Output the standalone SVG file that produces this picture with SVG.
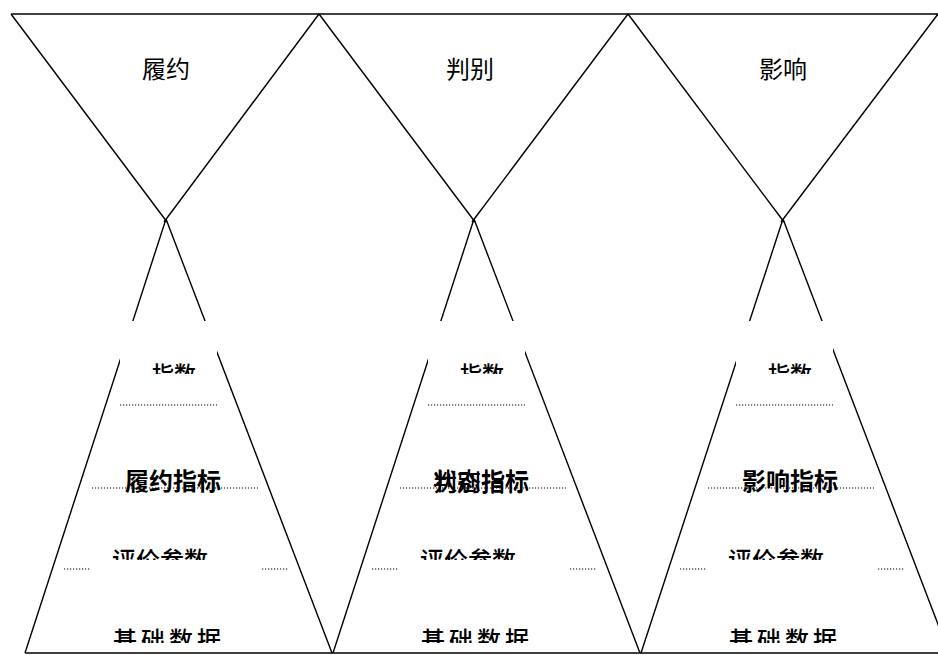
<svg xmlns="http://www.w3.org/2000/svg" width="938" height="655" viewBox="0 0 938 655">
<style>
.ln{stroke:#000;stroke-width:1.4;fill:none}
.dot{stroke:#000;stroke-width:1.2;stroke-dasharray:1.2 1.8;fill:none}
.wb{fill:#fff;stroke:none}
text{font-family:"Noto Sans CJK SC","Noto Sans",sans-serif;fill:#000;text-anchor:middle;font-weight:500}
.t{font-size:24px}
.s{font-size:22px}
.b{font-weight:700}
.h{font-weight:400}
</style>
<defs>
<clipPath id="c1"><rect x="0" y="321" width="938" height="53"/></clipPath>
<clipPath id="c3"><rect x="0" y="520" width="938" height="40"/></clipPath>
<clipPath id="c4"><rect x="0" y="600" width="938" height="43"/></clipPath>
</defs>
<rect width="938" height="655" fill="#fff"/>
<g id="connectors">
<line class="ln" x1="11" y1="14" x2="938" y2="14"/>
<line class="ln" x1="25" y1="653" x2="938" y2="653"/>
<polyline class="ln" points="11,14 167,222"/>
<polyline class="ln" points="319,14 164,222"/>
<polyline class="ln" points="319,14 475,222"/>
<polyline class="ln" points="628,14 472,222"/>
<polyline class="ln" points="628,14 784,222"/>
<polyline class="ln" points="938,14 781,222"/>
<line class="ln" x1="166" y1="219" x2="25" y2="653"/>
<line class="ln" x1="166" y1="219" x2="332" y2="653"/>
<line class="ln" x1="474" y1="219" x2="333" y2="653"/>
<line class="ln" x1="474" y1="219" x2="640" y2="653"/>
<line class="ln" x1="783" y1="219" x2="641" y2="653"/>
<line class="ln" x1="783" y1="219" x2="949" y2="653"/>
</g>
<g id="top1"><text class="t h" x="166" y="78">履约</text></g>
<g id="top2"><text class="t h" x="470" y="78">判别</text></g>
<g id="top3"><text class="t h" x="783" y="78">影响</text></g>
<g id="col1">
<rect class="wb" x="120" y="321" width="97" height="84"/>
<text class="s" x="174" y="382" clip-path="url(#c1)">指数</text>
<line class="dot" x1="120" y1="405" x2="217" y2="405"/>
<line class="dot" x1="92" y1="488" x2="258" y2="488"/>
<text class="t b" x="173" y="490">履约指标</text>
<line class="dot" x1="64" y1="569" x2="288" y2="569"/>
<rect class="wb" x="91" y="540" width="171" height="34"/>
<text class="t" x="160" y="569" clip-path="url(#c3)">评价参数</text>
<text class="t" x="169" y="649" letter-spacing="4" clip-path="url(#c4)">基础数据</text>
</g>
<g id="col2">
<rect class="wb" x="428" y="321" width="97" height="84"/>
<text class="s" x="482" y="382" clip-path="url(#c1)">指数</text>
<line class="dot" x1="428" y1="405" x2="525" y2="405"/>
<line class="dot" x1="400" y1="488" x2="566" y2="488"/>
<text class="t" x="481" y="490">状态指标</text>
<text class="t" x="481" y="491">判别指标</text>
<line class="dot" x1="372" y1="569" x2="596" y2="569"/>
<rect class="wb" x="399" y="540" width="171" height="34"/>
<text class="t" x="468" y="569" clip-path="url(#c3)">评价参数</text>
<text class="t" x="477" y="649" letter-spacing="4" clip-path="url(#c4)">基础数据</text>
</g>
<g id="col3">
<rect class="wb" x="736" y="321" width="97" height="84"/>
<text class="s" x="790" y="382" clip-path="url(#c1)">指数</text>
<line class="dot" x1="736" y1="405" x2="833" y2="405"/>
<line class="dot" x1="708" y1="488" x2="874" y2="488"/>
<text class="t b" x="790" y="490">影响指标</text>
<line class="dot" x1="680" y1="569" x2="904" y2="569"/>
<rect class="wb" x="707" y="540" width="171" height="34"/>
<text class="t" x="776" y="569" clip-path="url(#c3)">评价参数</text>
<text class="t" x="785" y="649" letter-spacing="4" clip-path="url(#c4)">基础数据</text>
</g>
</svg>
